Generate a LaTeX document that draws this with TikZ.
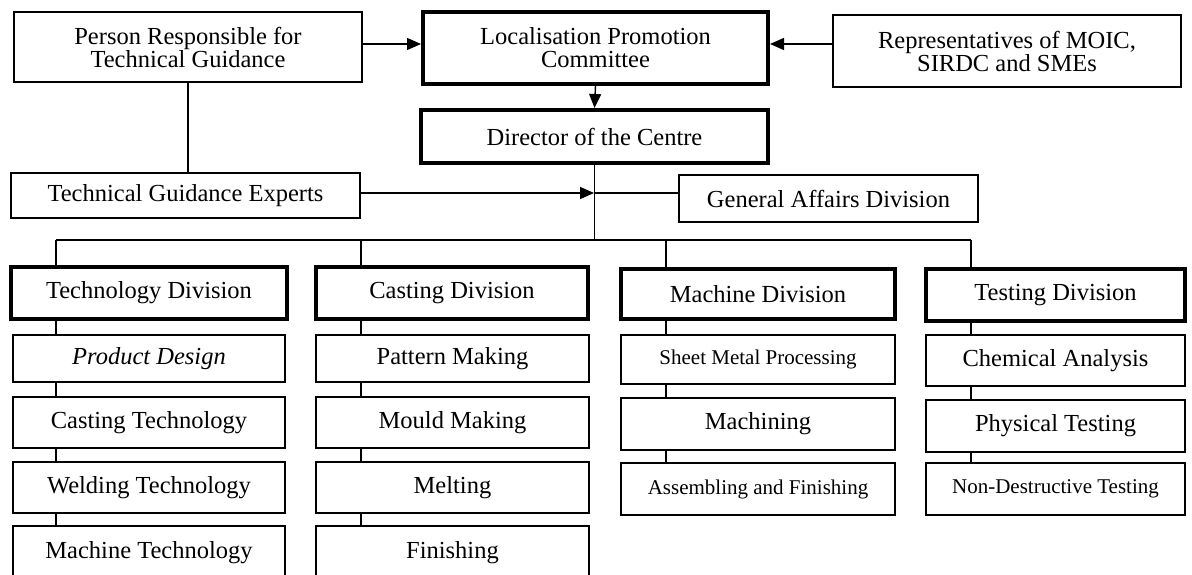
\documentclass[tikz,border=0pt]{standalone}
\usepackage{fontspec}
\setmainfont{Liberation Serif}
\usetikzlibrary{arrows.meta}
\begin{document}
\begin{tikzpicture}[x=1pt,y=-1pt,
  box/.style={draw,line width=1.4pt,rectangle,inner sep=0pt,align=center,
    font=\fontsize{24.5}{23}\selectfont},
  tbox/.style={box,line width=4pt},
  small/.style={font=\fontsize{21}{21}\selectfont},
  con/.style={line width=1.4pt},
  arr/.style={con,-{Triangle[length=14pt,width=12pt]}}]
\useasboundingbox (0,0) rectangle (1192,575);
\newcommand\bx[7][box]{\node[#1,minimum width=#5-#3,minimum height=#6-#4] (#2) at ({(#3+#5)/2},{(#4+#6)/2}) {#7};}
\bx{person}{14}{12}{362}{82}{Person Responsible for\\Technical Guidance}
\bx[tbox]{loc}{423}{12}{768}{84}{Localisation Promotion\\Committee}
\bx{rep}{833}{15}{1181}{87}{Representatives of MOIC,\\SIRDC and SMEs}
\bx[tbox]{dir}{421}{110}{768}{163}{Director of the Centre}
\bx{tge}{11}{173}{360}{218}{Technical Guidance Experts}
\bx{ga}{679}{175}{978}{222}{General Affairs Division}
% divisions
\bx[tbox]{tech}{11}{267}{287}{319}{Technology Division}
\bx[tbox]{cast}{316}{267}{588}{319}{Casting Division}
\bx[tbox]{mach}{621}{269}{895}{319}{Machine Division}
\bx[tbox]{test}{926}{269}{1185}{321}{Testing Division}
% technology column
\bx{t1}{13}{335}{285}{382}{\itshape Product Design}
\bx{t2}{13}{397}{285}{448}{Casting Technology}
\bx{t3}{13}{462}{285}{513}{Welding Technology}
\bx{t4}{13}{526}{285}{580}{Machine Technology}
% casting column
\bx{c1}{316}{335}{589}{382}{Pattern Making}
\bx{c2}{316}{397}{589}{448}{Mould Making}
\bx{c3}{316}{462}{589}{513}{Melting}
\bx{c4}{316}{526}{589}{580}{Finishing}
% machine column
\bx[box,small]{m1}{621}{335}{895}{384}{Sheet Metal Processing}
\bx{m2}{621}{398}{895}{450}{Machining}
\bx[box,small]{m3}{621}{463}{895}{515}{Assembling and Finishing}
% testing column
\bx{s1}{926}{335}{1185}{386}{Chemical Analysis}
\bx{s2}{926}{400}{1185}{452}{Physical Testing}
\bx[box,small]{s3}{926}{463}{1185}{515}{Non-Destructive Testing}
% top connectors
\coordinate (ya) at (0,44);
\draw[arr] (person.east |- ya) -- (loc.west |- ya);
\draw[arr] (rep.west |- ya) -- (loc.east |- ya);
\draw[arr] (loc.south) -- (dir.north);
\draw[con] (person.south) -- (person.south |- tge.north);
\coordinate (bus) at (594,240);
\coordinate (j) at (594,193);
\draw[con] (dir.south) -- (dir.south |- bus);
\draw[arr] (tge.east |- j) -- (j);
\draw[con] (j) -- (j -| ga.west);
% drop points
\coordinate (techx) at ([xshift=47pt]tech.north west);
\coordinate (castx) at ([xshift=47pt]cast.north west);
\coordinate (machx) at ([xshift=47pt]mach.north west);
\coordinate (testx) at ([xshift=47pt]test.north west);
\draw[con] (techx |- bus) -- (testx |- bus);
\draw[con] (techx |- bus) -- (techx);
\draw[con] (castx |- bus) -- (castx);
\draw[con] (machx |- bus) -- (machx);
\draw[con] (testx |- bus) -- (testx);
% chains
\draw[con] (techx |- tech.south) -- (techx |- t1.north);
\draw[con] (techx |- t1.south) -- (techx |- t2.north);
\draw[con] (techx |- t2.south) -- (techx |- t3.north);
\draw[con] (techx |- t3.south) -- (techx |- t4.north);
\draw[con] (castx |- cast.south) -- (castx |- c1.north);
\draw[con] (castx |- c1.south) -- (castx |- c2.north);
\draw[con] (castx |- c2.south) -- (castx |- c3.north);
\draw[con] (castx |- c3.south) -- (castx |- c4.north);
\draw[con] (machx |- mach.south) -- (machx |- m1.north);
\draw[con] (machx |- m1.south) -- (machx |- m2.north);
\draw[con] (machx |- m2.south) -- (machx |- m3.north);
\draw[con] (testx |- test.south) -- (testx |- s1.north);
\draw[con] (testx |- s1.south) -- (testx |- s2.north);
\draw[con] (testx |- s2.south) -- (testx |- s3.north);
\end{tikzpicture}
\end{document}
